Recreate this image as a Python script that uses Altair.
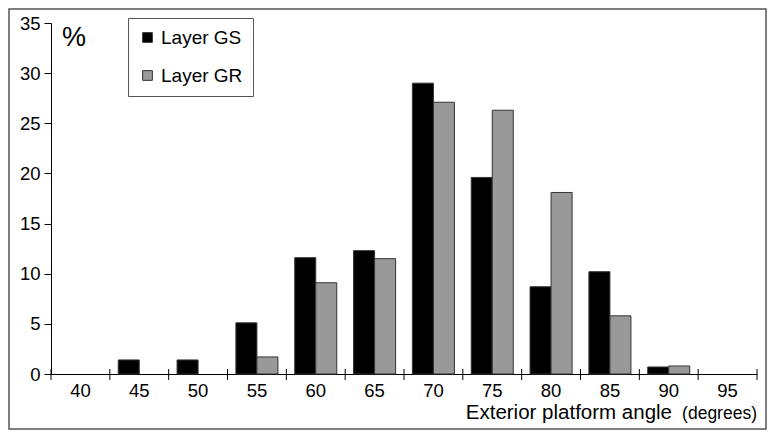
import altair as alt
import pandas as pd

categories = ["40", "45", "50", "55", "60", "65", "70", "75", "80", "85", "90", "95"]
layer_gs = [0, 1.4, 1.4, 5.1, 11.6, 12.3, 29.0, 19.6, 8.7, 10.2, 0.7, 0]
layer_gr = [0, 0, 0, 1.7, 9.1, 11.5, 27.1, 26.3, 18.1, 5.8, 0.8, 0]
series = ["Layer GS", "Layer GR"]
y_ticks = [0, 5, 10, 15, 20, 25, 30, 35]

FONT = "Liberation Sans"
W, H = 706, 351
PAD_L, PAD_T, PAD_R, PAD_B = 43, 15, 10, 56

rows = []
for c, a, b in zip(categories, layer_gs, layer_gr):
    rows.append({"cat": c, "series": series[0], "value": a})
    rows.append({"cat": c, "series": series[1], "value": b})
df = pd.DataFrame(rows)
cat_df = pd.DataFrame({"cat": categories})

xscale = alt.Scale(domain=categories, paddingInner=0, paddingOuter=0)

bars = alt.Chart(df).transform_filter("datum.value > 0").mark_bar(
    stroke="#333333", strokeWidth=1
).encode(
    x=alt.X("cat:N", scale=xscale, sort=categories,
            axis=alt.Axis(title=None, labelAngle=0, ticks=False, labelFontSize=18.5,
                          labelFont=FONT, labelColor="black", labelPadding=7,
                          domainColor="black", domainWidth=1)),
    xOffset=alt.XOffset("series:N", scale=alt.Scale(domain=series, paddingOuter=0.4, paddingInner=0)),
    y=alt.Y("value:Q", scale=alt.Scale(domain=[0, 35]),
            axis=alt.Axis(title=None, values=y_ticks, grid=False, labelFontSize=18.5,
                          labelFont=FONT, labelColor="black", tickSize=7, labelPadding=4,
                          tickColor="black", domainColor="black")),
    color=alt.Color("series:N", scale=alt.Scale(domain=series, range=["#000000", "#999999"]),
                    legend=alt.Legend(title=None, orient="none", legendX=77, legendY=-5,
                                      labelFontSize=19, labelFont=FONT, labelColor="black",
                                      symbolType="square", symbolSize=95,
                                      symbolStrokeColor="#333333", symbolStrokeWidth=1,
                                      rowPadding=18, padding=10, labelOffset=4,
                                      strokeColor="#555555", fillColor="white")),
)

ticks = alt.Chart(cat_df).mark_rule(color="black", strokeWidth=1).encode(
    x=alt.X("cat:N", bandPosition=0, scale=xscale, sort=categories),
    y=alt.value(H - 5), y2=alt.value(H + 6),
)
end_tick = alt.Chart(cat_df).transform_filter("datum.cat == '95'").mark_rule(
    color="black", strokeWidth=1
).encode(
    x=alt.X("cat:N", bandPosition=1, scale=xscale, sort=categories),
    y=alt.value(H - 5), y2=alt.value(H + 6),
)

pct = alt.Chart(pd.DataFrame({"t": ["%"]})).mark_text(
    font=FONT, fontSize=27, align="left", baseline="alphabetic", color="black"
).encode(text="t:N", x=alt.value(11), y=alt.value(23))

title_main = alt.Chart(pd.DataFrame({"t": ["Exterior platform angle"]})).mark_text(
    font=FONT, fontSize=20.5, align="right", baseline="alphabetic", color="black"
).encode(text="t:N", x=alt.value(W - 85), y=alt.value(H + 45))

title_unit = alt.Chart(pd.DataFrame({"t": ["(degrees)"]})).mark_text(
    font=FONT, fontSize=17.5, align="right", baseline="alphabetic", color="black"
).encode(text="t:N", x=alt.value(W), y=alt.value(H + 45))

frame = alt.Chart(pd.DataFrame({"t": [0]})).mark_rect(
    fill=None, stroke="#555555", strokeWidth=1.5
).encode(
    x=alt.value(-PAD_L + 1), x2=alt.value(W + PAD_R - 1),
    y=alt.value(-PAD_T + 1), y2=alt.value(H + PAD_B - 1),
)

chart = alt.layer(frame, bars, ticks, end_tick, pct, title_main, title_unit).properties(
    width=W, height=H,
    padding={"left": PAD_L, "top": PAD_T, "right": PAD_R, "bottom": PAD_B},
    autosize=alt.AutoSizeParams(type="none"),
    background="white",
).configure_view(stroke=None)

chart.save("out.html", embed_options={"renderer": "svg", "actions": False})
